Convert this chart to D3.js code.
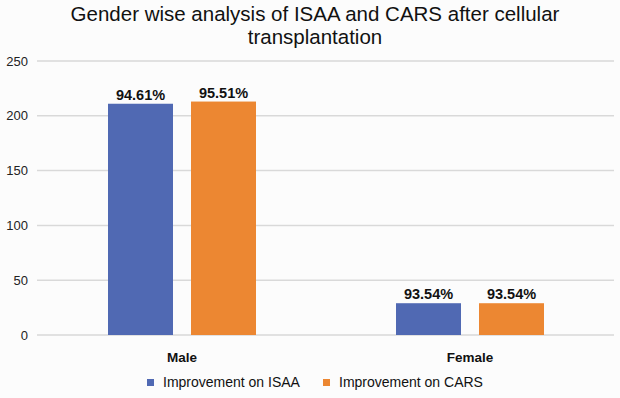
<!DOCTYPE html>
<html>
<head>
<meta charset="utf-8">
<script src="https://cdn.jsdelivr.net/npm/d3@7"></script>
<style>
  body { margin: 0; background: #fcfcfc; }
  svg { display: block; font-family: "Liberation Sans", Arial, sans-serif; }
</style>
</head>
<body>
<div id="chart"></div>
<script>
// chart data
var categories = ["Male", "Female"];
var seriesNames = ["Improvement on ISAA", "Improvement on CARS"];
var isaaValues = [211, 29];
var carsValues = [213, 29];
var isaaLabels = ["94.61%", "93.54%"];
var carsLabels = ["95.51%", "93.54%"];
var yTicks = [0, 50, 100, 150, 200, 250];
var seriesColors = ["#5069b3", "#ec8732"];

var width = 620, height = 398;

var svg = d3.select("#chart").append("svg")
    .attr("width", width)
    .attr("height", height);

svg.append("rect")
    .attr("width", width)
    .attr("height", height)
    .attr("fill", "#fcfcfc");

// title
var title = svg.append("text")
    .attr("text-anchor", "middle")
    .attr("font-size", 20.5)
    .attr("fill", "#111");
title.append("tspan").attr("x", 315).attr("y", 21)
    .text("Gender wise analysis of ISAA and CARS after cellular");
title.append("tspan").attr("x", 315).attr("y", 44)
    .text("transplantation");

var y = d3.scaleLinear()
    .domain([0, 250])
    .range([335, 61]);

var x0 = d3.scaleBand()
    .domain(categories)
    .range([38, 614]);

var x1 = d3.scaleBand()
    .domain(seriesNames)
    .range([-74, 74])
    .paddingInner(0.217);

// gridlines
svg.append("g")
    .selectAll("line")
    .data(yTicks)
    .enter()
    .append("line")
    .attr("x1", 37)
    .attr("x2", 614)
    .attr("y1", function(d) { return y(d); })
    .attr("y2", function(d) { return y(d); })
    .attr("stroke", "#d9d9d9")
    .attr("stroke-width", 1.5);

// y axis labels
svg.append("g")
    .selectAll("text")
    .data(yTicks)
    .enter()
    .append("text")
    .attr("x", 28)
    .attr("y", function(d) { return y(d) + 4.5; })
    .attr("text-anchor", "end")
    .attr("font-size", 13)
    .attr("fill", "#222")
    .text(function(d) { return d; });

var rows = categories.map(function(c, i) {
    return [
        { cat: c, series: seriesNames[0], value: isaaValues[i], label: isaaLabels[i], color: seriesColors[0] },
        { cat: c, series: seriesNames[1], value: carsValues[i], label: carsLabels[i], color: seriesColors[1] }
    ];
});

var groups = svg.selectAll(".group")
    .data(rows)
    .enter()
    .append("g")
    .attr("class", "group")
    .attr("transform", function(d, i) {
        return "translate(" + (x0(categories[i]) + x0.bandwidth() / 2) + ",0)";
    });

groups.selectAll("rect")
    .data(function(d) { return d; })
    .enter()
    .append("rect")
    .attr("x", function(d) { return x1(d.series); })
    .attr("width", x1.bandwidth())
    .attr("y", function(d) { return y(d.value); })
    .attr("height", function(d) { return y(0) - y(d.value); })
    .attr("fill", function(d) { return d.color; });

groups.selectAll(".val")
    .data(function(d) { return d; })
    .enter()
    .append("text")
    .attr("class", "val")
    .attr("x", function(d) { return x1(d.series) + x1.bandwidth() / 2; })
    .attr("y", function(d) { return y(d.value) - 4; })
    .attr("text-anchor", "middle")
    .attr("font-size", 14.5)
    .attr("font-weight", "bold")
    .attr("fill", "#111")
    .text(function(d) { return d.label; });

// category labels
svg.append("g")
    .selectAll("text")
    .data(categories)
    .enter()
    .append("text")
    .attr("x", function(d) { return x0(d) + x0.bandwidth() / 2; })
    .attr("y", 362)
    .attr("text-anchor", "middle")
    .attr("font-size", 13.5)
    .attr("font-weight", "bold")
    .attr("fill", "#111")
    .text(function(d) { return d; });

// legend
var legendX = [147, 323];
var legend = svg.selectAll(".legend")
    .data(seriesNames)
    .enter()
    .append("g")
    .attr("class", "legend")
    .attr("transform", function(d, i) { return "translate(" + legendX[i] + ",379)"; });

legend.append("rect")
    .attr("width", 7)
    .attr("height", 7)
    .attr("fill", function(d, i) { return seriesColors[i]; });

legend.append("text")
    .attr("x", 16)
    .attr("y", 8)
    .attr("font-size", 14)
    .attr("fill", "#111")
    .text(function(d) { return d; });
</script>
</body>
</html>
